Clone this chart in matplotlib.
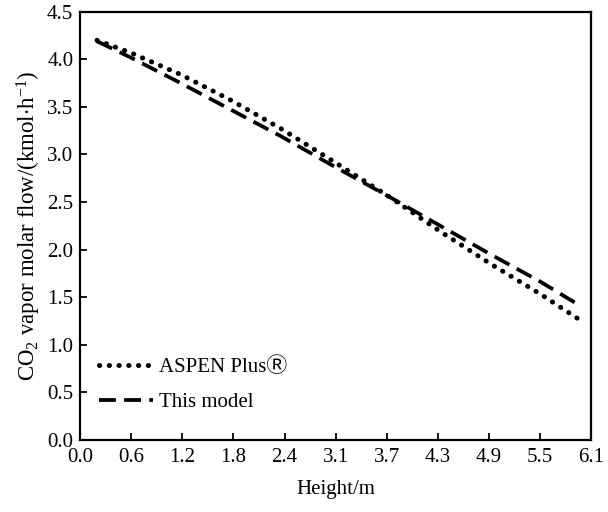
import numpy as np
import matplotlib.pyplot as plt

plt.rcParams['font.family'] = ['Liberation Serif', 'Noto Sans CJK SC', 'DejaVu Sans']
plt.rcParams['mathtext.fontset'] = 'custom'
plt.rcParams['mathtext.rm'] = 'Liberation Serif'
plt.rcParams['mathtext.it'] = 'Liberation Serif:italic'

# data
altura = [0.2, 0.6, 1.2, 1.8, 2.4, 3.0, 3.7, 4.3, 4.9, 5.5, 5.95]
aspen = [4.20, 4.07, 3.84, 3.57, 3.27, 2.94, 2.55, 2.19, 1.85, 1.53, 1.27]
modelo = [4.19, 4.02, 3.75, 3.47, 3.19, 2.89, 2.55, 2.25, 1.95, 1.66, 1.42]

xticks_lbl = ["0.0", "0.6", "1.2", "1.8", "2.4", "3.1", "3.7", "4.3", "4.9", "5.5", "6.1"]
yticks_val = np.arange(0, 4.51, 0.5)

fig, ax = plt.subplots(figsize=(6.08, 5.12), dpi=100)
fig.subplots_adjust(left=0.132, right=0.972, top=0.977, bottom=0.141)

ax.plot(altura, aspen, color="black", linewidth=3.6, linestyle=(0, (0.05, 1.9)),
        dash_capstyle="round", solid_capstyle="round", label="ASPEN Plus\u24c7")
ax.plot(altura, modelo, color="black", linewidth=2.7, linestyle=(0, (4.5, 2.2)),
        label="This model")

ax.set_xlim(0, 6.1)
ax.set_ylim(0, 4.5)
ax.set_xticks([i * 0.61 for i in range(11)])
ax.set_xticklabels(xticks_lbl)
ax.set_yticks(yticks_val)
ax.set_yticklabels(["%.1f" % v for v in yticks_val])
ax.tick_params(direction="in", length=5, width=1.3, labelsize=15, colors="black")
ax.tick_params(axis="x", pad=6)
ax.tick_params(axis="y", pad=5)
for s in ax.spines.values():
    s.set_linewidth(1.6)

ax.set_xlabel("Height/m", fontsize=15, labelpad=9)
ax.set_ylabel("CO$_2$ vapor molar flow/(kmol$\\cdot$h$^{-1}$)", fontsize=16.5, labelpad=3)

ax.legend(loc="lower left", bbox_to_anchor=(0.0, 0.02), frameon=False, fontsize=15,
          handlelength=2.6, handletextpad=0.3, labelspacing=0.75)

plt.savefig("out.png", dpi=100)
